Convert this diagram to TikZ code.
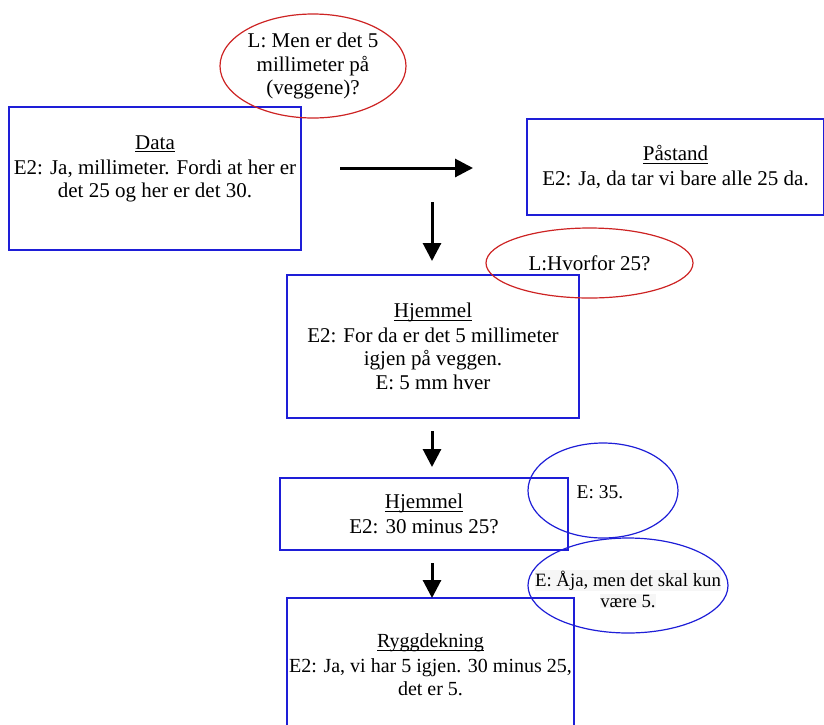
\documentclass[tikz,border=0pt]{standalone}
\usepackage{fontspec}
\setmainfont{Liberation Serif}
\usetikzlibrary{arrows.meta,shapes.geometric}
\definecolor{boxblue}{RGB}{30,30,215}
\definecolor{talkred}{RGB}{205,35,35}
% heading with a thin rule just under the baseline
\newcommand\headword[1]{\sbox0{#1}\rlap{\rule[-2.6pt]{\wd0}{0.8pt}}\usebox0}
\begin{document}
\begin{tikzpicture}[x=1pt,y=-1pt,
  every node/.style={font=\fontsize{21}{23.5}\selectfont, align=center, inner sep=0pt},
  box/.style={draw=boxblue, line width=1.2pt, rectangle},
  remark/.style={draw=talkred, line width=1.2pt, ellipse},
  aside/.style={draw=boxblue, line width=1.2pt, ellipse},
  pupil/.style={font=\fontsize{19.5}{23}\selectfont},
  flow/.style={line width=3pt, -{Triangle[length=18pt,width=18pt]}}]
\useasboundingbox (0,0) rectangle (824,724);
\begin{scope}
\clip (0,0) rectangle (824,724);

% claim structure boxes
\node[box, minimum width=292pt, minimum height=143pt] (data) at (155,178.5) {};
\node (datatext) at (155,169) {\headword{Data}\\[1pt]E2: Ja, millimeter. Fordi at her er\\det 25 og her er det 30.};

\node[box, minimum width=297pt, minimum height=96pt] (claim) at (675.5,167)
  {\headword{Påstand}\\[1pt]E2: Ja, da tar vi bare alle 25 da.};

\node[box, minimum width=292pt, minimum height=143pt] (warrant) at (433,346.5)
  {\headword{Hjemmel}\\[1pt]E2: For da er det 5 millimeter\\igjen på veggen.\\E: 5 mm hver};

\node[box, minimum width=288pt, minimum height=72pt] (warrant2) at (424,514)
  {\headword{Hjemmel}\\[1pt]E2: 30 minus 25?};

\node[box, minimum width=287pt, minimum height=150pt] (backing) at (430.5,673) {};
\node[font=\fontsize{20}{23.5}\selectfont] (backingtext) at (430.5,665)
  {\headword{Ryggdekning}\\[1pt]E2: Ja, vi har 5 igjen. 30 minus 25,\\det er 5.};

% teacher remarks
\node[remark, minimum width=186pt, minimum height=104pt] (q1) at (313,66)
  {L: Men er det 5\\millimeter på\\(veggene)?};
\node[remark, minimum width=207pt, minimum height=70pt] (q2) at (589.5,263)
  {L:Hvorfor 25?};

% pupil remarks
\node[aside, minimum width=150pt, minimum height=95pt] (e1) at (603,490.5) {};
\node[pupil] (e1text) at (600,492) {E: 35.};
\node[aside, minimum width=200pt, minimum height=95pt] (e2) at (628,585.5) {};
\node[pupil, font=\fontsize{18.8}{23}\selectfont] (e2text) at (628,589)
  {\setlength{\fboxsep}{0.5pt}\colorbox{gray!7}{E: Åja, men det skal kun}\\[-2pt]\setlength{\fboxsep}{0.5pt}\colorbox{gray!7}{være 5.}};

% arrows
\coordinate (a1s) at (340,168);
\coordinate (a1e) at (473,168);
\coordinate (a2s) at (432,202);
\coordinate (a2e) at (432,261);
\coordinate (a3s) at (432,431);
\coordinate (a3e) at (432,467);
\coordinate (a4s) at (432,563);
\coordinate (a4e) at (432,598);
\draw[flow] (a1s) -- (a1e);
\draw[flow] (a2s) -- (a2e);
\draw[flow] (a3s) -- (a3e);
\draw[flow] (a4s) -- (a4e);
\end{scope}
\end{tikzpicture}
\end{document}
